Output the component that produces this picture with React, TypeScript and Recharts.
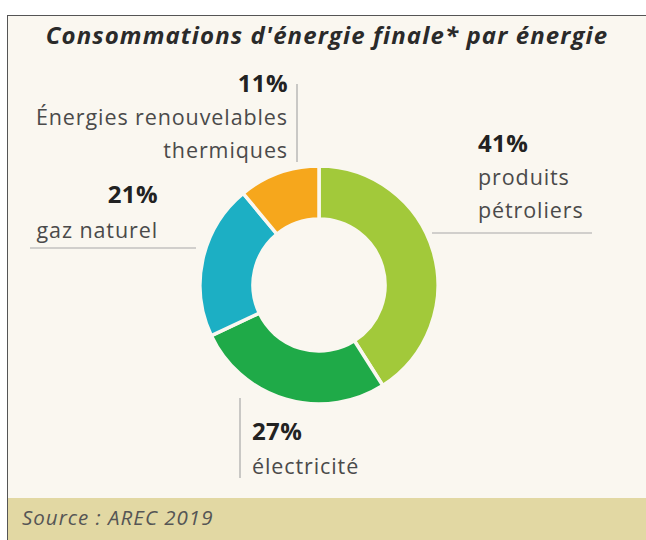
import React from 'react';
import { PieChart, Pie, Cell } from 'recharts';

// energy shares (%)
const energyNames = ['produits pétroliers', 'électricité', 'gaz naturel', 'Énergies renouvelables thermiques'];
const energyShares = [41, 27, 21, 11];
const energyColors = ['#a2c93a', '#1faa48', '#1cafc4', '#f6a71c'];

// text lines under each percentage
const labelLines = [
  ['produits', 'pétroliers'],
  ['électricité'],
  ['gaz naturel'],
  ['Énergies renouvelables', 'thermiques'],
];

const data = energyNames.map((name, i) => ({ name, value: energyShares[i], lines: labelLines[i] }));

const W = 646;
const H = 540;
const bg = '#faf7f0';
const font = '"Open Sans", Lato, sans-serif';

// where each annotation sits (layout only)
const labelLayout = [
  { x: 478, anchor: 'start', y0: 152, step: 33, line: [432, 233, 592, 233] },
  { x: 252, anchor: 'start', y0: 440, step: 34, line: [240, 398, 240, 478] },
  { x: 158, anchor: 'end', y0: 203, step: 35, line: [30, 248, 196, 248] },
  { x: 288, anchor: 'end', y0: 92, step: 33, line: [297, 84, 297, 162] },
];

const renderLabel = (props: any) => {
  const { index, payload, value } = props;
  const l = labelLayout[index];
  const lines: string[] = (payload && payload.lines) || data[index].lines;
  return (
    <g key={`lbl-${index}`}>
      <line x1={l.line[0]} y1={l.line[1]} x2={l.line[2]} y2={l.line[3]} stroke="#a8a8a8" strokeWidth={1.2} />
      <text x={l.x} y={l.y0} textAnchor={l.anchor} fontFamily={font} fontWeight={700} fontSize={24} letterSpacing={0.4} fill="#222">
        {`${value}%`}
      </text>
      {lines.map((t, k) => (
        <text key={k} x={l.x} y={l.y0 + l.step * (k + 1)} textAnchor={l.anchor} fontFamily={font} fontSize={21.5} letterSpacing={0.9} fill="#4a4a4a">
          {t}
        </text>
      ))}
    </g>
  );
};

export default function App() {
  return (
    <div style={{ position: 'absolute', left: 0, top: 0, width: W, height: H, background: '#fff', overflow: 'hidden' }}>
      {/* frame */}
      <div style={{ position: 'absolute', left: 7, top: 15, width: W, height: H, background: bg, borderLeft: '1.5px solid #555', borderTop: '1.5px solid #555' }} />
      {/* source band */}
      <div style={{ position: 'absolute', left: 8, top: 498, width: W, height: 42, background: '#e2d8a3' }} />
      <div style={{ position: 'absolute', left: 22, top: 503, fontFamily: font, fontStyle: 'italic', fontSize: 20.5, letterSpacing: 1, color: '#555' }}>
        Source : AREC 2019
      </div>
      <div style={{ position: 'absolute', left: 0, top: 0 }}>
        <PieChart width={W} height={H}>
          <text x={327} y={44} textAnchor="middle" fontFamily={font} fontStyle="italic" fontWeight={700} fontSize={24} letterSpacing={1.1} fill="#2a2a2a">
            Consommations d'énergie finale* par énergie
          </text>
          <Pie
            data={data}
            dataKey="value"
            nameKey="name"
            cx={314}
            cy={280}
            innerRadius={66}
            outerRadius={119}
            startAngle={90}
            endAngle={-270}
            stroke={bg}
            strokeWidth={3.5}
            label={renderLabel}
            labelLine={false}
            isAnimationActive={false}
          >
            {data.map((d, i) => (
              <Cell key={d.name} fill={energyColors[i]} />
            ))}
          </Pie>
        </PieChart>
      </div>
    </div>
  );
}
